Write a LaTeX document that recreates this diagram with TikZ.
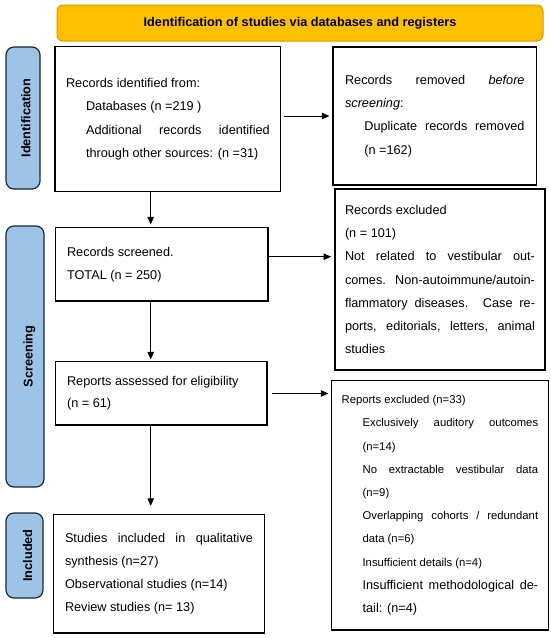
\documentclass[tikz,border=0pt]{standalone}
\usepackage{fontspec}
\setmainfont{Liberation Sans}
\usetikzlibrary{arrows.meta}
\definecolor{bannerfill}{HTML}{FFC000}
\definecolor{bannerline}{HTML}{D99A06}
\definecolor{sidefill}{HTML}{9DC3E6}
\definecolor{sideline}{HTML}{1B2733}
\newcommand{\fsA}{\fontsize{12.7}{23.3}\selectfont}
\newcommand{\fsB}{\fontsize{11.3}{23.2}\selectfont}
\newcommand{\boxsetup}{\fsA\parindent0pt\hyphenpenalty10000\exhyphenpenalty10000\emergencystretch0pt}
\begin{document}
\begin{tikzpicture}[x=1pt,y=-1pt,
  box/.style={draw=black, line width=1.3pt, rectangle, inner ysep=0pt, align=justify, font=\boxsetup},
  sidelabel/.style={draw=sideline, fill=sidefill, line width=1.2pt, rounded corners=8pt, rotate=90,
     font=\fsA\bfseries, text height=15pt, text depth=0pt, inner sep=0pt},
  banner/.style={draw=bannerline, fill=bannerfill, line width=1pt, rounded corners=6pt,
     font=\fsA\bfseries, inner sep=0pt},
  arr/.style={line width=0.9pt, -{Triangle[length=7.5pt,width=6.5pt]}}]
\useasboundingbox (0,0) rectangle (550,638);

% banner
\node[banner, minimum width=486pt, minimum height=36pt] (banner) at (300,23)
  {Identification of studies via databases and registers};

% side labels
\node[sidelabel, minimum width=142pt, minimum height=34pt] (identL) at (23,118) {Identification};
\node[sidelabel, minimum width=261pt, minimum height=38pt] (screenL) at (25,356.5) {Screening};
\node[sidelabel, minimum width=85pt, minimum height=37pt] (inclL) at (24.5,555.5) {Included};

% boxes
\node[box, minimum width=225.7pt, minimum height=145.2pt, inner xsep=11pt, text width=203.7pt] (box1) at (167.9,119.1)
  {Records identified from:\par
   {\leftskip=20pt Databases (n =219 )\par
   Additional records identified\linebreak through other sources: (n =31)\par}};

\node[box, minimum width=203.5pt, minimum height=138pt, inner xsep=12pt, text width=179.5pt] (removed) at (434.8,116)
  {Records removed \textit{before}\linebreak \textit{screening}:\par
   {\leftskip=19.3pt Duplicate records removed\linebreak (n =162)\par}};

\node[box, minimum width=210pt, minimum height=181pt, inner xsep=10pt, text width=190pt] (excl1) at (440,279.5)
  {Records excluded\par
   (n = 101)\par
   Not related to vestibular out-\linebreak comes. Non-autoimmune/autoin-\linebreak flammatory diseases. Case re-\linebreak ports, editorials, letters, animal studies\par};

\node[box, minimum width=212.5pt, minimum height=73.3pt, inner xsep=11.5pt, text width=189.5pt] (screened) at (161.8,264.4)
  {Records screened.\par TOTAL (n = 250)\par};

\node[box, minimum width=211.5pt, minimum height=63.3pt, inner xsep=11.5pt, text width=188.5pt] (assessed) at (161.3,393.4)
  {Reports assessed for eligibility\par {\fontsize{12.7}{22}\selectfont (n = 61)\par}};

\node[box, minimum width=216.8pt, minimum height=249.3pt, inner xsep=10.1pt, text width=196.6pt] (excl2) at (439.9,505.4)
  {{\fsB Reports excluded (n=33)\par}
   {\leftskip=21pt
   {\fsB Exclusively auditory outcomes\linebreak (n=14)\par}
   {\fsB No extractable vestibular data\linebreak (n=9)\par}
   {\fsB Overlapping cohorts / redundant\linebreak data (n=6)\par}
   {\fsB Insufficient details (n=4)\par}
   {\fontsize{12.7}{23.2}\selectfont Insufficient methodological de-\linebreak tail: (n=4)\par}}};

\node[box, minimum width=211.5pt, minimum height=118.5pt, inner xsep=11.75pt, text width=188pt] (included) at (159,573.7)
  {Studies included in qualitative\linebreak synthesis (n=27)\par
   Observational studies (n=14)\par
   Review studies (n= 13)\par};

% connectors
\coordinate (vx) at (150.7,0);
\coordinate (h1) at (0,116);
\coordinate (h2) at (0,256.7);
\coordinate (h3) at (0,393.5);
\draw[arr, shorten <=3pt, shorten >=3pt] (box1.east |- h1) -- (removed.west |- h1);
\draw[arr, shorten >=2.7pt] (box1.south -| vx) -- (screened.north -| vx);
\draw[arr, shorten >=3.3pt] (screened.east |- h2) -- (excl1.west |- h2);
\draw[arr, shorten >=1.7pt] (screened.south -| vx) -- (assessed.north -| vx);
\draw[arr, shorten <=4pt, shorten >=2.5pt] (assessed.east |- h3) -- (excl2.west |- h3);
\draw[arr, shorten >=8pt] (assessed.south -| vx) -- (included.north -| vx);
\end{tikzpicture}
\end{document}
